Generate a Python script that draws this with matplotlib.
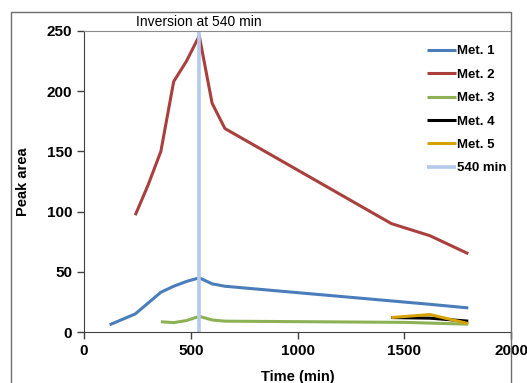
import numpy as np
from matplotlib import pyplot as plt
from matplotlib.lines import Line2D

plt.rcParams['font.family'] = ['Liberation Sans', 'DejaVu Sans']

# data
t_met1 = [120, 240, 360, 420, 480, 540, 600, 660, 1620, 1800]
met1 = [6, 15, 33, 38, 42, 45, 40, 38, 23, 20]

t_met2 = [240, 300, 360, 420, 480, 540, 600, 660, 1440, 1620, 1800]
met2 = [97, 122, 150, 208, 225, 246, 190, 169, 90, 80, 65]

t_met3 = [360, 420, 480, 540, 600, 660, 1500, 1800]
met3 = [8.5, 7.8, 9.5, 13, 10, 9, 8, 6.5]

t_met4 = [1440, 1620, 1800]
met4 = [12, 11.5, 9]

t_met5 = [1440, 1620, 1800]
met5 = [12, 14.5, 7]

t_inv = [540, 540]
inv = [0, 250]

fig = plt.figure(figsize=(5.27, 3.83), dpi=100)
ax = fig.add_axes([84 / 527, 1 - 332 / 383, 427 / 527, 301 / 383])

lw = 2.2
ax.plot(t_met1, met1, color='#4A7EBB', lw=lw, label='Met. 1', solid_capstyle='butt')
ax.plot(t_met2, met2, color='#A9403D', lw=lw, label='Met. 2', solid_capstyle='butt')
ax.plot(t_met3, met3, color='#8DB255', lw=lw, label='Met. 3', solid_capstyle='butt')
ax.plot(t_met4, met4, color='black', lw=lw, label='Met. 4', solid_capstyle='butt')
ax.plot(t_met5, met5, color='#D6A200', lw=lw, label='Met. 5', solid_capstyle='butt')
ax.plot(t_inv, inv, color='#B3CAEA', lw=2.6, label='540 min', solid_capstyle='butt')

ax.set_xlim(0, 2000)
ax.set_ylim(0, 250)
ax.set_xticks([0, 500, 1000, 1500, 2000])
ax.set_yticks([0, 50, 100, 150, 200, 250])
ax.tick_params(direction='out', length=5, width=1, colors='#404040',
               labelcolor='black', labelsize=11)
for lab in ax.get_xticklabels() + ax.get_yticklabels():
    lab.set_fontweight('bold')

ax.spines['left'].set_color('#404040')
ax.spines['bottom'].set_color('#404040')
ax.spines['top'].set_color('#8C8C8C')
ax.spines['right'].set_visible(False)

ax.set_xlabel('Time (min)', fontsize=10.5, fontweight='bold', labelpad=9)
ax.set_ylabel('Peak area', fontsize=10.5, fontweight='bold', labelpad=12)

ax.text(540, 252, 'Inversion at 540 min', ha='center', va='bottom', fontsize=10)

leg = ax.legend(loc='upper right', bbox_to_anchor=(1.017, 0.993), frameon=False,
                prop={'weight': 'bold', 'size': 9.5}, handlelength=2.2,
                handletextpad=0.1, labelspacing=0.85)

# outer chart frame
W, H = 527, 383
fig.add_artist(Line2D([11 / W, 11 / W, 511 / W, 511 / W],
                      [-0.1, 1 - 12 / H, 1 - 12 / H, -0.1],
                      transform=fig.transFigure, color='#6E6E6E', lw=1))

fig.savefig('out.png', dpi=100)
